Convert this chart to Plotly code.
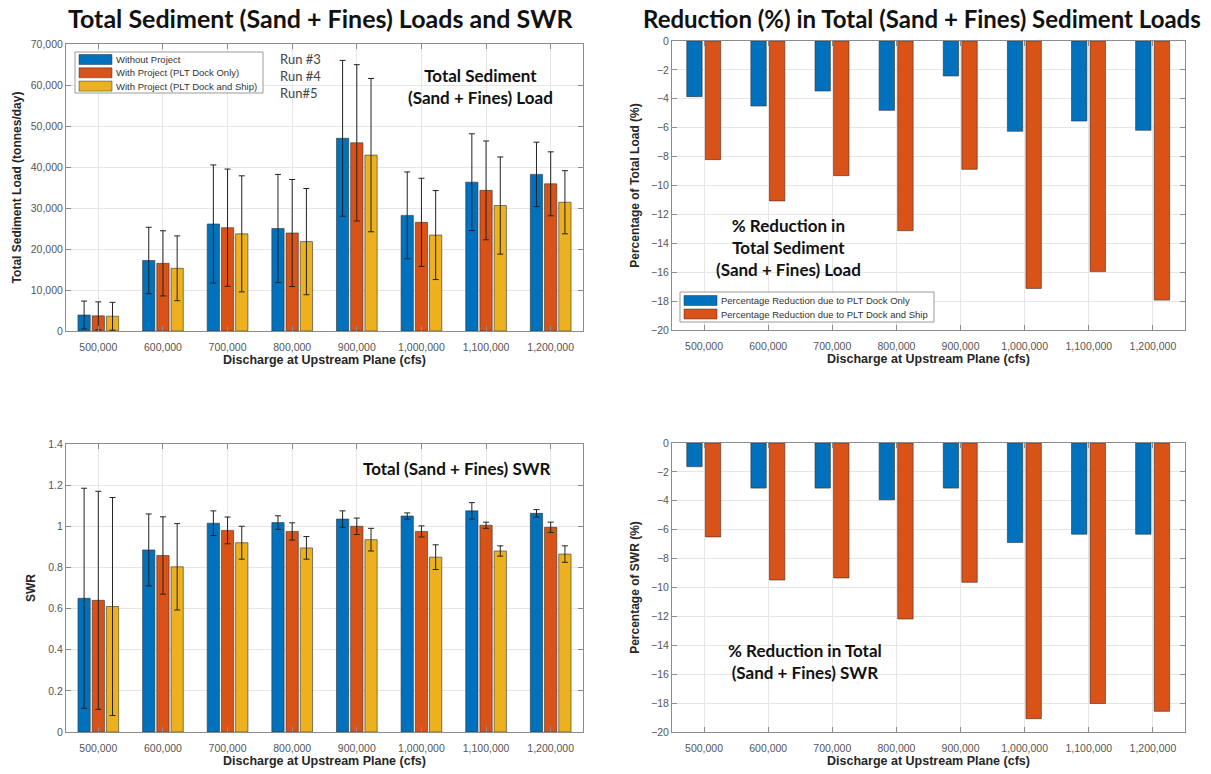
import plotly.graph_objects as go
from plotly.subplots import make_subplots

# ------------------------------ data ------------------------------ #
discharge = ["500,000", "600,000", "700,000", "800,000",
             "900,000", "1,000,000", "1,100,000", "1,200,000"]

load_without = [3900, 17200, 26100, 25000, 47000, 28200, 36300, 38200]
load_dock = [3700, 16500, 25200, 23900, 45900, 26500, 34300, 35900]
load_ship = [3600, 15300, 23700, 21800, 42900, 23400, 30600, 31400]
load_err_without = [3400, 8100, 14400, 13200, 19000, 10600, 11800, 7850]
load_err_dock = [3400, 7950, 14300, 13050, 19050, 10750, 12050, 7800]
load_err_ship = [3400, 7900, 14150, 12950, 18700, 10850, 11850, 7700]

swr_without = [0.65, 0.885, 1.015, 1.018, 1.035, 1.05, 1.075, 1.063]
swr_dock = [0.64, 0.858, 0.98, 0.975, 1.0, 0.975, 1.005, 0.995]
swr_ship = [0.61, 0.803, 0.92, 0.895, 0.935, 0.85, 0.88, 0.865]
swr_err_without = [0.535, 0.175, 0.06, 0.033, 0.04, 0.015, 0.04, 0.018]
swr_err_dock = [0.53, 0.188, 0.065, 0.042, 0.04, 0.027, 0.015, 0.025]
swr_err_ship = [0.53, 0.21, 0.08, 0.055, 0.055, 0.06, 0.025, 0.04]

pct_load_dock = [-3.85, -4.5, -3.46, -4.8, -2.42, -6.25, -5.54, -6.18]
pct_load_ship = [-8.21, -11.07, -9.32, -13.13, -8.88, -17.12, -15.96, -17.93]
pct_swr_dock = [-1.64, -3.12, -3.12, -3.93, -3.12, -6.89, -6.31, -6.31]
pct_swr_ship = [-6.5, -9.48, -9.34, -12.18, -9.64, -19.08, -18.03, -18.57]

run_names = ["Without Project", "With Project (PLT Dock Only)", "With Project (PLT Dock and Ship)"]
pct_names = ["Percentage Reduction due to PLT Dock Only", "Percentage Reduction due to PLT Dock and Ship"]
run_labels = ["Run #3", "Run #4", "Run#5"]

BLUE = "#0072BD"
ORANGE = "#D95319"
YELLOW = "#EDB120"
W, H = 1211, 774
TICK_FONT = dict(family="Liberation Sans, Arial", size=10.5, color="#555555")
LABEL_FONT = dict(family="Liberation Sans, Arial", size=12.5, color="#262626")
HEAD_FONT = "Lato, Open Sans, sans-serif"


def px(x):
    return x / W


def py(y):
    return 1 - y / H


def bar(name, y, color, center, width, err=None):
    return go.Bar(
        name=name,
        x=discharge,
        y=y,
        width=width,
        offset=center - width / 2,
        marker=dict(color=color, line=dict(color="#333333", width=0.6)),
        error_y=None if err is None else dict(
            type="data", array=err, color="#222222", thickness=1, width=3),
        showlegend=False,
    )


fig = make_subplots(rows=2, cols=2)

# left: loads and SWR (three runs)
w3 = 0.19
fig.add_trace(bar(run_names[0], load_without, BLUE, -0.22, w3, load_err_without), 1, 1)
fig.add_trace(bar(run_names[1], load_dock, ORANGE, 0.0, w3, load_err_dock), 1, 1)
fig.add_trace(bar(run_names[2], load_ship, YELLOW, 0.22, w3, load_err_ship), 1, 1)
fig.add_trace(bar(run_names[0], swr_without, BLUE, -0.22, w3, swr_err_without), 2, 1)
fig.add_trace(bar(run_names[1], swr_dock, ORANGE, 0.0, w3, swr_err_dock), 2, 1)
fig.add_trace(bar(run_names[2], swr_ship, YELLOW, 0.22, w3, swr_err_ship), 2, 1)

# right: percentage reductions
w2 = 0.24
fig.add_trace(bar(pct_names[0], pct_load_dock, BLUE, -0.15, w2), 1, 2)
fig.add_trace(bar(pct_names[1], pct_load_ship, ORANGE, 0.14, w2), 1, 2)
fig.add_trace(bar(pct_names[0], pct_swr_dock, BLUE, -0.15, w2), 2, 2)
fig.add_trace(bar(pct_names[1], pct_swr_ship, ORANGE, 0.14, w2), 2, 2)

# -------------------------- axes ---------------------------------- #
common = dict(
    showline=True, linecolor="#8c8c8c", linewidth=1, mirror="ticks",
    ticks="inside", ticklen=5, tickcolor="#8c8c8c",
    showgrid=True, gridcolor="#e6e6e6", zeroline=False,
    tickfont=TICK_FONT, automargin=False,
)
xdom_l = [px(66), px(583)]
xdom_r = [px(672), px(1185)]
for ax, dom in (("xaxis", xdom_l), ("xaxis2", xdom_r), ("xaxis3", xdom_l), ("xaxis4", xdom_r)):
    fig.update_layout({ax: dict(
        common, domain=dom, type="category", range=[-0.5, 7.5], ticklabelstandoff=6,
        title=dict(text="<b>Discharge at Upstream Plane (cfs)</b>", font=LABEL_FONT, standoff=3),
    )})

ytitle = dict(font=dict(LABEL_FONT, size=12))
fig.update_layout(
    yaxis=dict(common, domain=[py(331), py(44)], range=[0, 70000], dtick=10000, tickformat=",",
               title=dict(ytitle, text="<b>Total Sediment Load (tonnes/day)</b>", standoff=6)),
    yaxis3=dict(common, domain=[py(732), py(444)], range=[0, 1.4], dtick=0.2,
                title=dict(ytitle, text="<b>SWR</b>", standoff=10)),
    yaxis2=dict(common, domain=[py(330), py(41)], range=[-20, 0], dtick=2,
                title=dict(ytitle, text="<b>Percentage of Total Load (%)</b>", standoff=8)),
    yaxis4=dict(common, domain=[py(732), py(443)], range=[-20, 0], dtick=2,
                title=dict(ytitle, text="<b>Percentage of SWR (%)</b>", standoff=8)),
)


# -------------------------- text ---------------------------------- #
def note(text, x, y, size=17, bold=True, color="#111111", xanchor="center"):
    fig.add_annotation(
        text=f"<b>{text}</b>" if bold else text,
        x=px(x), y=py(y), xref="paper", yref="paper",
        xanchor=xanchor, yanchor="middle", showarrow=False, align="center",
        font=dict(family=HEAD_FONT, size=size, color=color),
    )


note("Total Sediment (Sand + Fines) Loads and SWR", 320, 18, size=25)
note("Reduction (%) in Total (Sand + Fines) Sediment Loads", 922, 18, size=24)
for i, lab in enumerate(run_labels):
    note(lab, 278, 59 + 17 * i, size=13, bold=False, color="#444444", xanchor="left")
note("Total Sediment<br>(Sand + Fines) Load", 480, 86)
note("Total (Sand + Fines) SWR", 457, 468)
note("% Reduction in<br>Total Sediment<br>(Sand + Fines) Load", 788, 247)
note("% Reduction in Total<br>(Sand + Fines) SWR", 805, 661)


# MATLAB-style legend boxes with wide colour swatches
def legend_box(names, colors, x0, y0, x1, y1, row0, step):
    fig.add_shape(type="rect", xref="paper", yref="paper",
                  x0=px(x0), x1=px(x1), y0=py(y0), y1=py(y1),
                  fillcolor="white", line=dict(color="#9a9a9a", width=1))
    for i, (name, color) in enumerate(zip(names, colors)):
        yc = row0 + step * i
        fig.add_shape(type="rect", xref="paper", yref="paper",
                      x0=px(x0 + 4), x1=px(x0 + 37), y0=py(yc - 5), y1=py(yc + 5),
                      fillcolor=color, line=dict(color="#333333", width=0.5))
        fig.add_annotation(text=name, x=px(x0 + 39), y=py(yc), xref="paper", yref="paper",
                           xanchor="left", yanchor="middle", showarrow=False,
                           font=dict(family="Liberation Sans, Arial", size=9.5, color="#333333"))


legend_box(run_names, [BLUE, ORANGE, YELLOW], 75, 52, 263, 93, 59.5, 13.3)
legend_box(pct_names, [BLUE, ORANGE], 680, 292, 934, 322, 300.5, 13.5)

fig.update_layout(
    width=W, height=H,
    margin=dict(l=0, r=0, t=0, b=0),
    paper_bgcolor="white", plot_bgcolor="white",
    barmode="overlay",
    showlegend=False,
)

# the page body has an 8px default margin; drop it so the figure fills the window
fig.write_html("out.html", config={"displayModeBar": False},
               post_script="document.body.style.margin='0px';")
